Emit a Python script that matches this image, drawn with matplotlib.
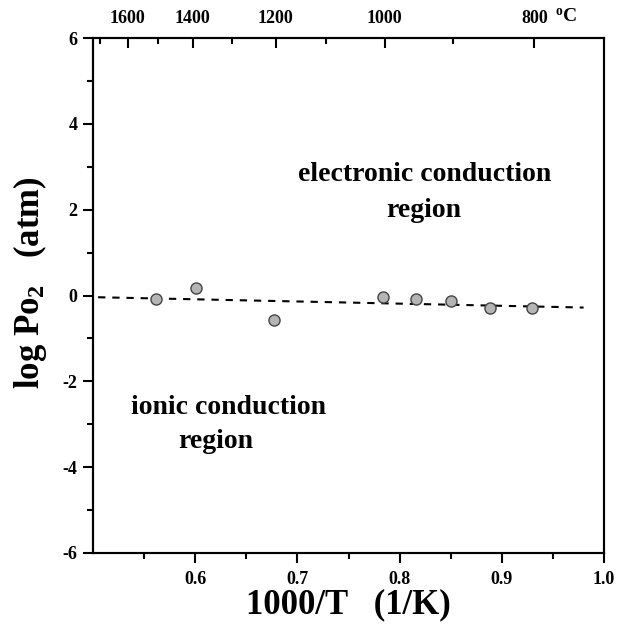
from matplotlib import pyplot as plt
from matplotlib.ticker import MultipleLocator, FixedLocator
import numpy as np

plt.rcParams['font.family'] = ['Liberation Serif', 'DejaVu Serif']
plt.rcParams['font.weight'] = 'bold'
plt.rcParams['axes.unicode_minus'] = False
plt.rcParams['mathtext.fontset'] = 'custom'
plt.rcParams['mathtext.rm'] = 'Liberation Serif:bold'
plt.rcParams['mathtext.bf'] = 'Liberation Serif:bold'
plt.rcParams['mathtext.it'] = 'Liberation Serif:bold:italic'

# measured points, 1000/T (1/K) vs log Po2 (atm)
inv_temp = [0.562, 0.601, 0.677, 0.784, 0.816, 0.850, 0.888, 0.930]
log_po2 = [-0.08, 0.18, -0.56, -0.03, -0.08, -0.12, -0.28, -0.28]

# dashed boundary line end points
fit_x = [0.505, 0.98]
fit_y = [-0.04, -0.28]

# top axis in Celsius
celsius_major = [1600, 1400, 1200, 1000, 800]
celsius_minor = [1700, 1500, 1300, 1100, 900]

fig = plt.figure(figsize=(6.34, 6.24), dpi=100)
ax = fig.add_axes([0.1467, 0.1138, 0.806, 0.8252])

ax.plot(fit_x, fit_y, color='black', linewidth=1.5, dashes=(3.5, 3.3))
ax.plot(inv_temp, log_po2, linestyle='none', marker='o', markersize=8,
        markerfacecolor='#b4b4b4', markeredgecolor='#444444', markeredgewidth=1)

ax.set_xlim(0.5, 1.0)
ax.set_ylim(-6, 6)
ax.xaxis.set_major_locator(FixedLocator([0.6, 0.7, 0.8, 0.9, 1.0]))
ax.xaxis.set_minor_locator(FixedLocator([0.55, 0.65, 0.75, 0.85, 0.95]))
ax.yaxis.set_major_locator(MultipleLocator(2))
ax.yaxis.set_minor_locator(MultipleLocator(1))
ax.xaxis.set_major_formatter(plt.FormatStrFormatter('%.1f'))

for spine in ax.spines.values():
    spine.set_linewidth(1.5)

ax.tick_params(axis='both', which='major', direction='out', length=7, width=1.5,
               labelsize=13)
ax.tick_params(axis='both', which='minor', direction='out', length=4, width=1.5)
ax.tick_params(axis='y', which='major', pad=4)
ax.tick_params(axis='x', which='major', pad=6)

ax.set_xlabel('1000/T   (1/K)', fontsize=25, fontweight='bold', labelpad=0)
ax.set_ylabel(r'log Po$_{\mathrm{2}}$   (atm)', fontsize=25, fontweight='bold')
ax.yaxis.set_label_coords(-0.087, 0.524)

# top axis with temperature in Celsius
top = ax.twiny()
top.set_xlim(ax.get_xlim())
top.xaxis.set_major_locator(FixedLocator([1000.0 / (c + 273.15) for c in celsius_major]))
top.xaxis.set_minor_locator(FixedLocator([1000.0 / (c + 273.15) for c in celsius_minor]))
top.set_xticklabels([str(c) for c in celsius_major])
top.tick_params(axis='x', which='major', direction='in', length=7, width=1.5,
                labelsize=13, pad=8)
top.tick_params(axis='x', which='minor', direction='in', length=4, width=1.5)
for spine in top.spines.values():
    spine.set_linewidth(1.5)

top.annotate(r'$^{\mathrm{o}}$C', xy=(1000.0 / (800 + 273.15), 1.0), xycoords=('data', 'axes fraction'),
             xytext=(15, 9), textcoords='offset points', fontsize=14, fontweight='bold',
             ha='left', va='bottom')

ax.text(0.824, 2.4, 'electronic conduction\nregion', fontsize=20, fontweight='bold',
        ha='center', va='center', linespacing=1.6)
ax.text(0.633, -2.6, 'ionic conduction', fontsize=20, fontweight='bold',
        ha='center', va='center')
ax.text(0.620, -3.4, 'region', fontsize=20, fontweight='bold',
        ha='center', va='center')

fig.savefig('out.png', dpi=100)
